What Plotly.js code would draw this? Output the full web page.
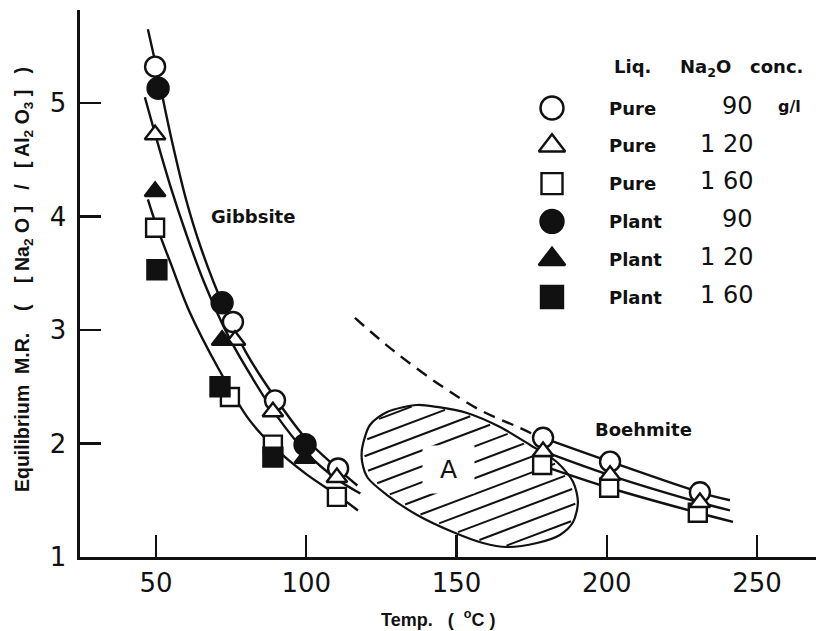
<!DOCTYPE html>
<html><head><meta charset="utf-8">
<script src="https://cdn.plot.ly/plotly-3.0.1.min.js"></script>
<style>html,body{margin:0;padding:0;background:#fff}#chart{width:816px;height:631px}</style>
</head><body><div id="chart"></div>
<script>
// ---------- data ----------
const seriesLiq   = ['Pure', 'Pure', 'Pure', 'Plant', 'Plant', 'Plant'];
const seriesConc  = [90, 120, 160, 90, 120, 160];
const concLabels  = ['90', '1 20', '1 60', '90', '1 20', '1 60'];

const pure90X  = [49.7, 75.6, 89.6, 110.6, 178.8, 201.1, 231.0];
const pure90Y  = [5.32, 3.07, 2.38, 1.78, 2.05, 1.84, 1.57];
const pure120X = [49.7, 76.3, 88.9, 110.2, 178.8, 201.1, 231.0];
const pure120Y = [4.72, 2.91, 2.28, 1.70, 1.93, 1.72, 1.48];
const pure160X = [49.7, 74.6, 88.9, 110.2, 178.5, 200.8, 230.3];
const pure160Y = [3.90, 2.41, 1.99, 1.53, 1.81, 1.61, 1.39];
const plant90X  = [50.7, 72.0, 99.6];
const plant90Y  = [5.13, 3.24, 1.99];
const plant120X = [49.7, 72.0, 99.6];
const plant120Y = [4.22, 2.91, 1.87];
const plant160X = [50.3, 71.3, 88.9];
const plant160Y = [3.53, 2.50, 1.88];

// hand-drawn equilibrium curves (Gibbsite)
const gib90X  = [47.3, 50, 55, 60, 65, 72, 80, 90, 100, 110, 117];
const gib90Y  = [5.65, 5.33, 4.70, 4.15, 3.72, 3.24, 2.80, 2.39, 2.04, 1.79, 1.63];
const gib120X = [46.3, 50, 55, 60, 66, 74, 82, 90, 100, 110, 118];
const gib120Y = [5.05, 4.70, 4.25, 3.85, 3.42, 2.95, 2.58, 2.25, 1.92, 1.69, 1.56];
const gib160X = [47.3, 50, 55, 61, 71, 81, 90, 100, 110, 117.2];
const gib160Y = [4.15, 3.93, 3.58, 3.17, 2.65, 2.21, 1.95, 1.73, 1.55, 1.41];
// Boehmite curves
const boe90X  = [178.8, 201.1, 231.0, 241];
const boe90Y  = [2.05, 1.84, 1.57, 1.50];
const boe120X = [177, 201.1, 231.0, 241];
const boe120Y = [1.95, 1.72, 1.48, 1.41];
const boe160X = [178, 200.8, 230.3, 242];
const boe160Y = [1.81, 1.61, 1.39, 1.31];
// dashed extension
const dashX = [116.2, 128.9, 144.5, 157.8, 171.1, 178.0];
const dashY = [3.106, 2.82, 2.515, 2.295, 2.137, 2.05];
// hatched region "A"
const regionX = [118.6, 121.2, 126.9, 136.9, 143.5, 153.5, 164.5, 174.5, 183.4, 188.8, 190.4, 188.8, 184.4, 176.8, 166.8, 158.8, 148.8, 136.9, 126.9, 120.5, 118.6, 118.6];
const regionY = [1.960, 2.163, 2.278, 2.339, 2.322, 2.269, 2.145, 1.987, 1.837, 1.661, 1.485, 1.308, 1.194, 1.123, 1.088, 1.123, 1.220, 1.370, 1.546, 1.696, 1.837, 1.960];

const xTicks = [50, 100, 150, 200, 250];
const yTicks = [1, 2, 3, 4, 5];

// ---------- styles ----------
const INK = '#111';
const symbols = ['circle', 'triangle-up', 'square', 'circle', 'triangle-up', 'square'];
const fills   = ['#fff', '#fff', '#fff', INK, INK, INK];
const sizes   = [20, 18, 18, 21, 18, 19];
const seriesX = [pure90X, pure120X, pure160X, plant90X, plant120X, plant160X];
const seriesY = [pure90Y, pure120Y, pure160Y, plant90Y, plant120Y, plant160Y];

const X_RANGE = [24.71, 269.63], Y_RANGE = [1, 5.819];
const PL = 80, PT = 10, PW = 736, PH = 547;
const px2p = px => (px - PL) / PW;
const py2p = py => (PT + PH - py) / PH;
// convert a layout pixel position to the main axes (for legend keys)
const px2x = px => X_RANGE[0] + px2p(px) * (X_RANGE[1] - X_RANGE[0]);
const py2y = py => Y_RANGE[0] + py2p(py) * (Y_RANGE[1] - Y_RANGE[0]);

const traces = [];
function curve(x, y, dash) {
  traces.push({x, y, type: 'scatter', mode: 'lines', showlegend: false, hoverinfo: 'skip',
    line: {color: INK, width: 2.4, shape: 'spline', smoothing: 1, dash: dash || 'solid'}});
}

// region outline + hatch
traces.push({x: regionX, y: regionY, type: 'scatter', mode: 'lines', showlegend: false, hoverinfo: 'skip',
  line: {color: INK, width: 2.2, shape: 'spline', smoothing: 0.8}});
(function hatch() {
  const slope = 0.0100, step = 0.14, x0 = 150;
  const cs = regionX.map((x, i) => regionY[i] - slope * (x - x0));
  const cmin = Math.min(...cs), cmax = Math.max(...cs);
  const hx = [], hy = [];
  for (let c = cmin + step * 0.6; c < cmax; c += step) {
    const hits = [];
    for (let i = 0; i < regionX.length - 1; i++) {
      const f1 = regionY[i] - (c + slope * (regionX[i] - x0));
      const f2 = regionY[i + 1] - (c + slope * (regionX[i + 1] - x0));
      if ((f1 < 0) !== (f2 < 0)) {
        const t = f1 / (f1 - f2);
        hits.push(regionX[i] + t * (regionX[i + 1] - regionX[i]));
      }
    }
    hits.sort((a, b) => a - b);
    for (let k = 0; k + 1 < hits.length; k += 2) {
      const a = hits[k] + 0.8, b = hits[k + 1] - 0.8;
      hx.push(a, b, null);
      hy.push(c + slope * (a - x0), c + slope * (b - x0), null);
    }
  }
  traces.push({x: hx, y: hy, type: 'scatter', mode: 'lines', showlegend: false, hoverinfo: 'skip',
    line: {color: INK, width: 2}});
})();

curve(gib90X, gib90Y); curve(gib120X, gib120Y); curve(gib160X, gib160Y);
curve(boe90X, boe90Y); curve(boe120X, boe120Y); curve(boe160X, boe160Y);
curve(dashX, dashY, '12px,8px');

// markers (draw order: filled circles, open circles, squares, triangles)
const order = [3, 0, 2, 5, 1, 4];
order.forEach(i => {
  traces.push({x: seriesX[i], y: seriesY[i], type: 'scatter', mode: 'markers',
    name: seriesLiq[i] + ' ' + seriesConc[i] + ' g/l', showlegend: false,
    marker: {symbol: symbols[i], size: sizes[i], color: fills[i], line: {color: INK, width: 2.4}}});
});

// ---------- legend table ----------
const legRow0 = 108, legStep = 37.8;
const legSymX = 552, legLiqX = 607, legNumR = 755;
const legSizes = [23, 23, 21, 23, 23, 22];
seriesLiq.forEach((liq, i) => {
  traces.push({x: [px2x(legSymX)], y: [py2y(legRow0 + i * legStep)],
    type: 'scatter', mode: 'markers', showlegend: false, hoverinfo: 'skip', cliponaxis: false,
    marker: {symbol: symbols[i], size: legSizes[i], color: fills[i], line: {color: INK, width: 2.4}}});
});

const annotations = [];
const boldFont = (s) => ({family: 'DejaVu Sans', size: s || 18, color: INK, weight: 700});
annotations.push({xref: 'paper', yref: 'paper', x: px2p(612), y: py2p(67), xanchor: 'left', yanchor: 'middle',
  text: 'Liq.', showarrow: false, font: boldFont()});
annotations.push({xref: 'paper', yref: 'paper', x: px2p(678), y: py2p(68), xanchor: 'left', yanchor: 'middle',
  text: 'Na<sub>2</sub>O   conc.', showarrow: false, font: boldFont()});
seriesLiq.forEach((liq, i) => {
  const ry = py2p(legRow0 + i * legStep);
  annotations.push({xref: 'paper', yref: 'paper', x: px2p(legLiqX), y: ry, xanchor: 'left', yanchor: 'middle',
    text: liq, showarrow: false, font: boldFont()});
  annotations.push({xref: 'paper', yref: 'paper', x: px2p(legNumR), y: ry + 0.004, xanchor: 'right', yanchor: 'middle',
    text: concLabels[i], showarrow: false, font: {family: 'DejaVu Sans', size: 24, color: INK}});
});
annotations.push({xref: 'paper', yref: 'paper', x: px2p(776), y: py2p(legRow0 - 2), xanchor: 'left', yanchor: 'middle',
  text: 'g/l', showarrow: false, font: boldFont(16)});

// in-plot labels
annotations.push({xref: 'x', yref: 'y', x: 82.3, y: 4.0, text: 'Gibbsite', showarrow: false, font: boldFont()});
annotations.push({xref: 'x', yref: 'y', x: 212.1, y: 2.12, text: 'Boehmite', showarrow: false, font: boldFont()});
annotations.push({xref: 'x', yref: 'y', x: 147.2, y: 1.775, text: ' A ', showarrow: false, bgcolor: '#fff', borderpad: 9,
  font: {family: 'DejaVu Sans', size: 25, color: INK}});

// axis titles
annotations.push({xref: 'paper', yref: 'paper', x: px2p(438), y: py2p(618), xanchor: 'center', yanchor: 'middle',
  text: 'Temp.   (  <sup>o</sup>C )', showarrow: false,
  font: {family: 'Liberation Sans', size: 18, color: INK, weight: 700}});
annotations.push({xref: 'paper', yref: 'paper', x: px2p(23), y: py2p(280), xanchor: 'center', yanchor: 'middle', textangle: -90,
  text: 'Equilibrium  M.R.    (    [ Na<sub>2</sub> O ]   /   [ Al<sub>2</sub> O<sub>3</sub> ]   )', showarrow: false,
  font: {family: 'Liberation Sans', size: 19.5, color: INK, weight: 700}});

const tickFont = {family: 'DejaVu Sans', size: 26, color: INK};
const layout = {
  width: 816, height: 631,
  margin: {l: PL, r: 0, t: PT, b: 631 - PT - PH, pad: 0},
  paper_bgcolor: '#fff', plot_bgcolor: '#fff',
  showlegend: false,
  xaxis: {range: X_RANGE, tickvals: xTicks, ticktext: xTicks.map(String), tickmode: 'array',
    ticks: 'inside', ticklen: 22, tickwidth: 2.4, tickcolor: INK,
    showline: true, linewidth: 2.6, linecolor: INK, showgrid: false, zeroline: false, tickfont: tickFont,
    ticklabelstandoff: 1, fixedrange: true},
  yaxis: {range: Y_RANGE, tickvals: yTicks, ticktext: yTicks.map(String), tickmode: 'array',
    ticks: 'inside', ticklen: 21, tickwidth: 2.4, tickcolor: INK,
    showline: true, linewidth: 2.6, linecolor: INK, showgrid: false, zeroline: false, tickfont: tickFont,
    ticklabelstandoff: 6, fixedrange: true},
  annotations
};
Plotly.newPlot('chart', traces, layout, {displayModeBar: false, staticPlot: true});
</script></body></html>
